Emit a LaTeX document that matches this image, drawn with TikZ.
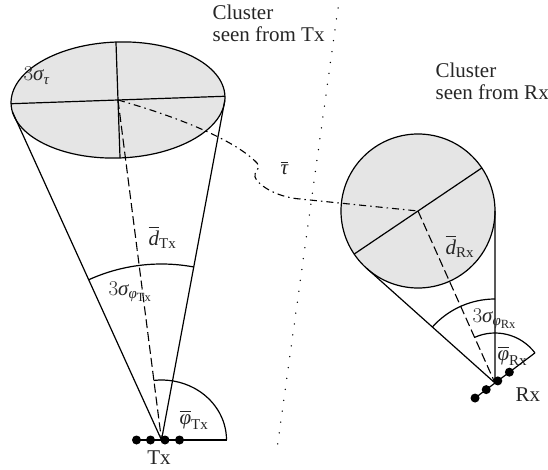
\RequirePackage{fix-cm}
\documentclass[tikz,border=0pt]{standalone}
\usepackage{amsmath}
\usepackage{fontspec}
\setmainfont{Liberation Serif}
\DeclareMathSizes{21}{21}{15}{12.5}
\usetikzlibrary{calc}
\newcommand{\gsig}{\text{\itshape σ}}
\newcommand{\gtau}{\text{\itshape τ}}
\newcommand{\gphi}{\text{\itshape φ}}
\newcommand{\ltd}{\text{\itshape d}}
\begin{document}
\begin{tikzpicture}[x=1pt,y=1pt,
  line width=1.2pt,
  edge/.style={draw=black, line width=1.2pt},
  meanline/.style={draw=black, line width=1.1pt, dash pattern=on 9pt off 4pt},
  delayline/.style={draw=black, line width=1.1pt, dash pattern=on 7pt off 4pt on 1.5pt off 4pt},
  sepline/.style={draw=black, line width=1.5pt, line cap=round, dash pattern=on 0pt off 11pt},
  elem/.style={circle, fill=black, inner sep=0pt, minimum size=9pt},
  lbl/.style={inner sep=0pt, text=black!85, font=\fontsize{21}{22}\selectfont},
  cluster/.style={fill=gray!20, draw=black, line width=1.2pt}]
\useasboundingbox (0,0) rectangle (548,469);

% ---------- Tx side ----------
\coordinate (Tx) at (161.5,29);
\begin{scope}[shift={(118,369)}, rotate=2]
  \coordinate (Ctx) at (0,0);
  \draw[cluster] (0,0) ellipse [x radius=107, y radius=58];
  \coordinate (TL) at (188:107 and 58);
  \coordinate (TR) at (-4:107 and 58);
  \coordinate (EW) at (180:107);
  \coordinate (EE) at (0:107);
  \coordinate (EN) at (90:58);
  \coordinate (ES) at (270:58);
\end{scope}
\draw[edge] (EW) -- (EE);
\draw[edge] (EN) -- (ES);
\draw[edge] (TL) -- (Tx) -- (TR);
\draw[meanline] (Ctx) -- (Tx);
\draw[edge] ($(Tx)+(79.5:176)$) arc[start angle=79.5, end angle=114.4, radius=176];

\coordinate (TxRef) at ($(Tx)+(65,0)$);
\node[elem] (t1) at ($(Tx)+(-25,0)$) {};
\node[elem] (t2) at ($(Tx)+(-11,0)$) {};
\node[elem] (t3) at ($(Tx)+(3.5,0)$) {};
\node[elem] (t4) at ($(Tx)+(18,0)$) {};
\draw[edge] (t1.center) -- (TxRef);
\draw[edge] (TxRef) arc[start angle=0, end angle=97, x radius=65, y radius=60];

% ---------- Rx side ----------
\coordinate (O) at (418,258);
\coordinate (Rx) at (495,86);
\draw[cluster] (O) circle [radius=77];
\draw[edge] ($(O)+(34:77)$) -- ($(O)+(214:77)$);
\coordinate (RT) at (366.8,200.6);
\coordinate (RV) at (495,258);
\draw[edge] (RT) -- (Rx) -- (RV);
\draw[meanline] (O) -- (Rx);
\draw[edge] ($(Rx)+(90:84)$) arc[start angle=90, end angle=138.2, radius=84];

\coordinate (RxRef) at ($(Rx)+(37:50)$);
\node[elem] (r1) at ($(Rx)+(37:-25)$) {};
\node[elem] (r2) at ($(Rx)+(37:-11)$) {};
\node[elem] (r3) at ($(Rx)+(37:3.5)$) {};
\node[elem] (r4) at ($(Rx)+(37:18)$) {};
\draw[edge] (r1.center) -- (RxRef);
\draw[edge] (RxRef) arc[start angle=37, end angle=114.1, radius=50];

% ---------- delay path ----------
\draw[delayline] (Ctx) .. controls (185,350) and (237,327) .. (257,306)
   .. controls (262,300) and (253,297) .. (255,292)
   .. controls (257,285) and (275,272) .. (300,270) -- (O);

% ---------- separator ----------
\coordinate (S1) at (338,461);
\coordinate (S2) at (277,20);
\draw[sepline] (S1) -- (S2);

% ---------- labels ----------
\node[lbl, anchor=base west] (ls) at (23,388) {$3\gsig_{\gtau}$};
\node[lbl, anchor=base west, align=left] (lct) at (212,427) {Cluster\\seen from Tx};
\node[lbl, anchor=base west, align=left] (lcr) at (435,369) {Cluster\\seen from Rx};
\node[lbl, anchor=base west] (ldt) at (148,224) {$\overline{\ltd}_{\text{Tx}}$};
\node[lbl, anchor=base west] (lst) at (108,174) {$3\gsig_{\gphi_{\text{Tx}}}$};
\node[lbl, anchor=base west] (lpt) at (179,45) {$\overline{\gphi}_{\text{Tx}}$};
\node[lbl, anchor=base] (ltx) at (159,5) {Tx};
\node[lbl, anchor=base west] (ltau) at (280,294) {$\overline{\gtau}$};
\node[lbl, anchor=base west] (ldr) at (445,215) {$\overline{\ltd}_{\text{Rx}}$};
\node[lbl, anchor=base west] (lsr) at (472,147) {$3\gsig_{\gphi_{\text{Rx}}}$};
\node[lbl, anchor=base west] (lpr) at (497,109) {$\overline{\gphi}_{\text{Rx}}$};
\node[lbl, anchor=base west] (lrx) at (515,68) {Rx};
\end{tikzpicture}
\end{document}
